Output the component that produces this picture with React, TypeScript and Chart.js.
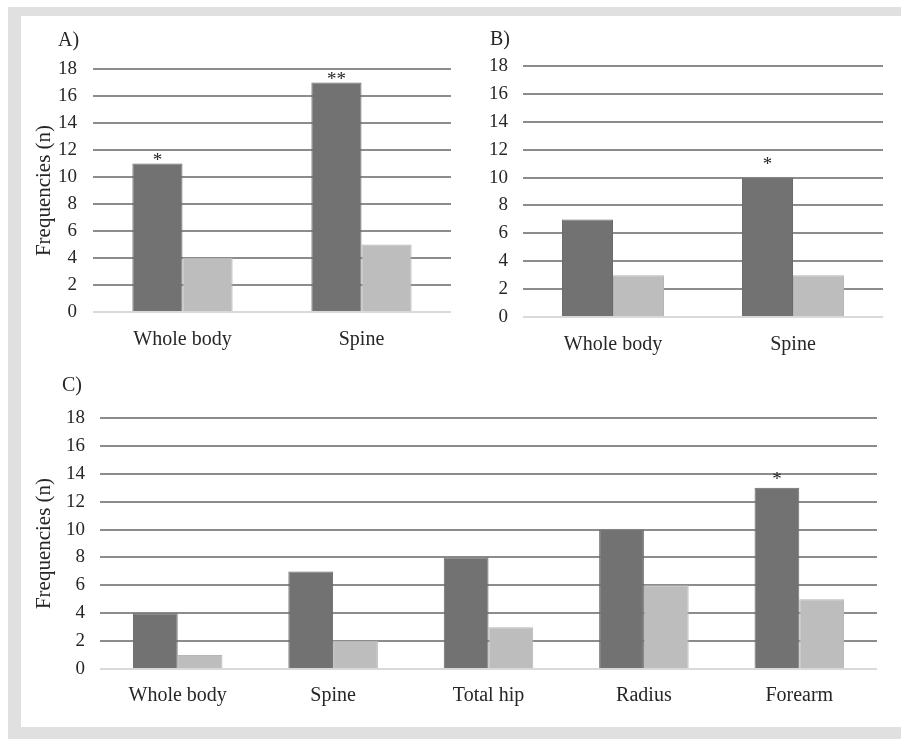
import React, { useEffect, useRef } from "react";
import { Chart, registerables } from "chart.js";

Chart.register(...registerables);

// ---------- data ----------
const catsTop = ["Whole body", "Spine"];
const catsC = ["Whole body", "Spine", "Total hip", "Radius", "Forearm"];

const darkA = [11, 17];
const lightA = [4, 5];
const starsA = ["*", "**"];
const starLevelA = [11.4, 17.4];

const darkB = [7, 10];
const lightB = [3, 3];
const starsB = ["", "*"];
const starLevelB = [0, 11.1];

const darkC = [4, 7, 8, 10, 13];
const lightC = [1, 2, 3, 6, 5];
const starsC = ["", "", "", "", "*"];
const starLevelC = [0, 0, 0, 0, 13.75];

const yTicks = [0, 2, 4, 6, 8, 10, 12, 14, 16, 18];
const yTitle = "Frequencies (n)";

// ---------- styles ----------
const SERIF = "'Liberation Serif', 'Times New Roman', serif";
const TEXT = "#262626";
const DARK = "#727272";
const LIGHT = "#bdbdbd";
const GRID = "#8c8c8c";
const BASE = "#d9d9d9";

const panelLabelPlugin = {
  id: "panelLabel",
  afterDraw(chart: any, _args: any, opts: any) {
    if (!opts || !opts.text) return;
    const { ctx, chartArea } = chart;
    ctx.save();
    ctx.font = `${opts.size}px ${SERIF}`;
    ctx.fillStyle = TEXT;
    ctx.textAlign = "left";
    ctx.textBaseline = "middle";
    ctx.fillText(opts.text, chartArea.left + opts.dx, chartArea.top + opts.dy);
    ctx.restore();
  },
};

const starPlugin = {
  id: "stars",
  afterDatasetsDraw(chart: any, _args: any, opts: any) {
    if (!opts || !opts.marks) return;
    const { ctx } = chart;
    const meta = chart.getDatasetMeta(0);
    const yScale = chart.scales.y;
    ctx.save();
    ctx.font = `${opts.size}px ${SERIF}`;
    ctx.fillStyle = TEXT;
    ctx.textAlign = "center";
    ctx.textBaseline = "middle";
    opts.marks.forEach((m: string, i: number) => {
      if (!m) return;
      const bar = meta.data[i];
      ctx.fillText(m, bar.x, yScale.getPixelForValue(opts.levels[i]) + 3);
    });
    ctx.restore();
  },
};

function makeConfig(p: any) {
  return {
    type: "bar",
    data: {
      labels: p.labels,
      datasets: [
        {
          label: "Group 1",
          data: p.dark,
          backgroundColor: DARK,
          borderColor: "#6a6a6a",
          borderWidth: 1,
          categoryPercentage: p.catPct,
          barPercentage: 1,
        },
        {
          label: "Group 2",
          data: p.light,
          backgroundColor: LIGHT,
          borderColor: "#b5b5b5",
          borderWidth: 1,
          categoryPercentage: p.catPct,
          barPercentage: 1,
        },
      ],
    },
    options: {
      animation: false,
      responsive: false,
      maintainAspectRatio: false,
      events: [],
      layout: { padding: p.padding },
      plugins: {
        legend: { display: false },
        tooltip: { enabled: false },
        panelLabel: { text: p.panel, size: 20, dx: p.labelDx, dy: p.labelDy },
        stars: { marks: p.stars, levels: p.starLevels, size: 19 },
      },
      scales: {
        x: {
          grid: { display: false },
          border: { display: false },
          ticks: {
            color: TEXT,
            font: { family: SERIF, size: 20 },
            padding: p.xPad,
            maxRotation: 0,
          },
          afterFit: (s: any) => {
            s.height = p.xHeight;
          },
        },
        y: {
          min: 0,
          max: 18,
          afterBuildTicks: (s: any) => {
            s.ticks = yTicks.map((v) => ({ value: v }));
          },
          grid: {
            color: (c: any) => (c.tick && c.tick.value === 0 ? BASE : GRID),
            lineWidth: 2,
            drawTicks: false,
          },
          border: { display: false },
          ticks: {
            color: TEXT,
            font: { family: SERIF, size: 19 },
            padding: p.yPad,
          },
          title: {
            display: !!p.showTitle,
            text: yTitle,
            color: TEXT,
            font: { family: SERIF, size: 21 },
            padding: { top: 11, bottom: 0 },
          },
          afterFit: (s: any) => {
            s.width = p.yWidth;
          },
        },
      },
    },
    plugins: [panelLabelPlugin, starPlugin],
  };
}

function Panel(props: { cfg: any; left: number; top: number; width: number; height: number }) {
  const ref = useRef<HTMLCanvasElement>(null);
  useEffect(() => {
    if (!ref.current) return;
    const chart = new Chart(ref.current, makeConfig(props.cfg) as any);
    return () => chart.destroy();
  }, []);
  return (
    <canvas
      ref={ref}
      width={props.width}
      height={props.height}
      style={{
        position: "absolute",
        left: props.left,
        top: props.top,
        width: props.width,
        height: props.height,
      }}
    />
  );
}

const cfgA = {
  labels: catsTop,
  dark: darkA,
  light: lightA,
  stars: starsA,
  starLevels: starLevelA,
  panel: "A)",
  labelDx: -35,
  labelDy: -28,
  catPct: 0.56,
  padding: { left: 0, right: 20, top: 53, bottom: 0 },
  xHeight: 54,
  xPad: 8,
  yWidth: 72,
  yPad: 16,
  showTitle: true,
};

const cfgB = {
  labels: catsTop,
  dark: darkB,
  light: lightB,
  stars: starsB,
  starLevels: starLevelB,
  panel: "B)",
  labelDx: -33,
  labelDy: -26,
  catPct: 0.567,
  padding: { left: 0, right: 18, top: 50, bottom: 0 },
  xHeight: 49,
  xPad: 8,
  yWidth: 52,
  yPad: 15,
  showTitle: false,
};

const cfgC = {
  labels: catsC,
  dark: darkC,
  light: lightC,
  stars: starsC,
  starLevels: starLevelC,
  panel: "C)",
  labelDx: -38,
  labelDy: -32,
  catPct: 0.576,
  padding: { left: 0, right: 24, top: 52, bottom: 0 },
  xHeight: 58,
  xPad: 7,
  yWidth: 79,
  yPad: 15,
  showTitle: true,
};

export default function App() {
  return (
    <div style={{ position: "absolute", left: 0, top: 0, width: 901, height: 739, background: "#ffffff", overflow: "hidden" }}>
      <div style={{ position: "absolute", left: 8, top: 7, width: 893, height: 732, background: "#e0e0e0" }} />
      <div style={{ position: "absolute", left: 21, top: 16, width: 880, height: 711, background: "#ffffff" }} />
      <Panel cfg={cfgA} left={21} top={16} width={450} height={350} />
      <Panel cfg={cfgB} left={471} top={16} width={430} height={350} />
      <Panel cfg={cfgC} left={21} top={366} width={880} height={361} />
    </div>
  );
}
